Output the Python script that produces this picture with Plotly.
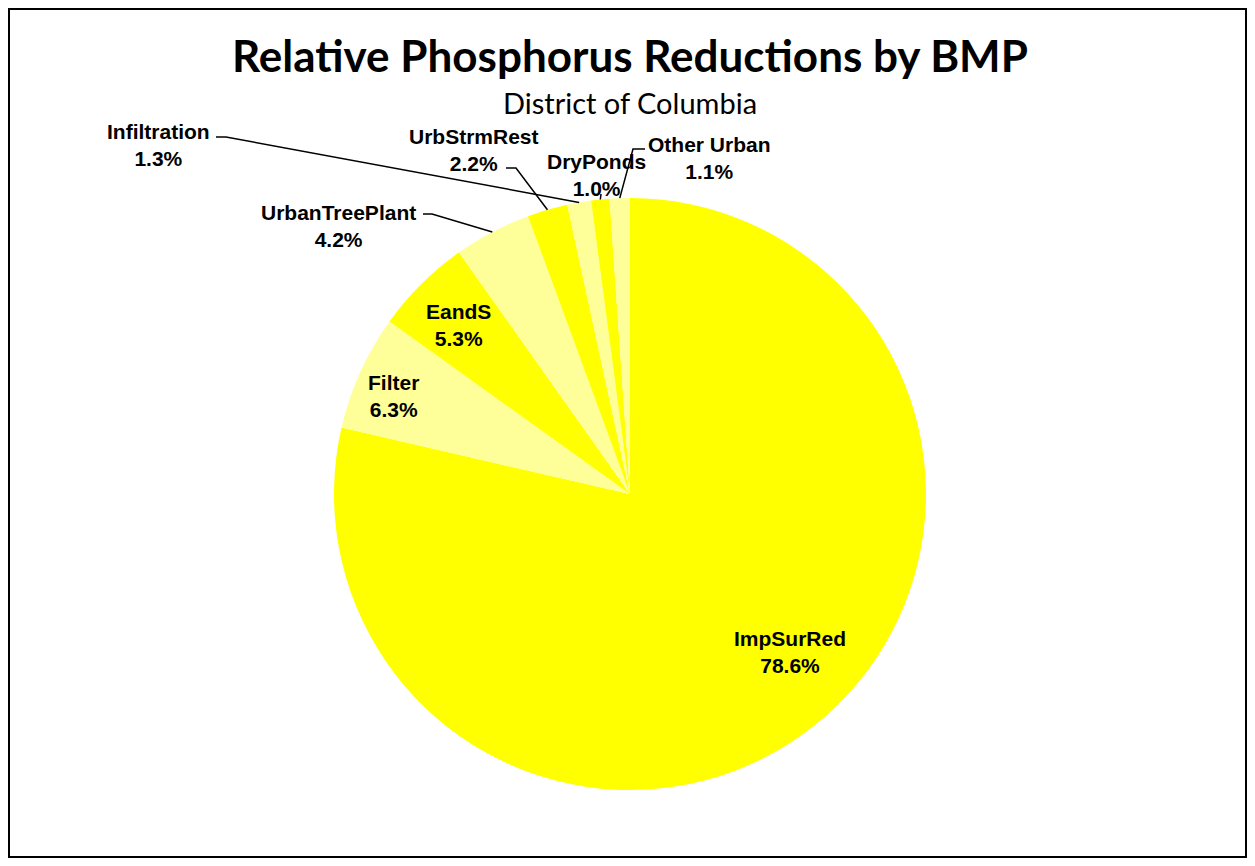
import math
import plotly.graph_objects as go

# ---- data ----
categories = ["ImpSurRed", "Filter", "EandS", "UrbanTreePlant", "UrbStrmRest",
              "Infiltration", "DryPonds", "Other Urban"]
percent_values = [78.6, 6.3, 5.3, 4.2, 2.2, 1.3, 1.0, 1.1]
slice_colors = ["#FFFF00", "#FFFF99", "#FFFF00", "#FFFF99", "#FFFF00",
                "#FFFF99", "#FFFF00", "#FFFF99"]

title_text = "Relative Phosphorus Reductions by BMP"
subtitle_text = "District of Columbia"

# ---- layout (screen pixel geometry; page body has an 8px margin) ----
OFF = 8
W, H = 1255 - 2 * OFF, 866 - 2 * OFF
CX, CY, R = 630, 494, 296

label_pos = {
    "ImpSurRed": (790, 652),
    "Filter": (393, 396),
    "EandS": (458, 325),
    "UrbanTreePlant": (338, 226),
    "UrbStrmRest": (474, 150),
    "Infiltration": (158, 145),
    "DryPonds": (596, 175),
    "Other Urban": (709, 158),
}
leader_start = {
    "UrbanTreePlant": [(423, 214), (432, 214)],
    "UrbStrmRest": [(506, 168), (516, 168)],
    "Infiltration": [(216, 137), (226, 137)],
    "DryPonds": [(601, 194)],
    "Other Urban": [(645, 149), (633, 149)],
}


def px(x):
    return (x - OFF) / W


def py(y):
    return 1 - (y - OFF) / H


fig = go.Figure()
fig.add_trace(go.Pie(
    labels=categories,
    values=percent_values,
    marker=dict(colors=slice_colors, line=dict(width=0)),
    sort=False,
    direction="clockwise",
    rotation=0,
    textinfo="none",
    hoverinfo="label+percent",
    showlegend=False,
    domain=dict(x=[px(CX - R), px(CX + R)], y=[py(CY + R), py(CY - R)]),
))

total = sum(percent_values)
cum = 0.0
shapes = []
annotations = []
label_font = dict(family="Arial, Liberation Sans, sans-serif", size=21, color="black")
for name, v in zip(categories, percent_values):
    mid = (cum + v / 2) / total * 2 * math.pi
    cum += v
    lx, ly = label_pos[name]
    annotations.append(dict(
        x=px(lx), y=py(ly), xref="paper", yref="paper",
        text=f"<b>{name}</b><br><b>{v:.1f}%</b>",
        showarrow=False, xanchor="center", yanchor="middle",
        font=label_font, align="center",
    ))
    if name in leader_start:
        ex = CX + R * math.sin(mid)
        ey = CY - R * math.cos(mid)
        pts = leader_start[name] + [(ex, ey)]
        path = "M " + " L ".join(f"{px(x)},{py(y)}" for x, y in pts)
        shapes.append(dict(type="path", xref="paper", yref="paper", path=path,
                           line=dict(color="black", width=1.5)))

# chart border
shapes.append(dict(type="rect", xref="paper", yref="paper",
                   x0=px(9), x1=px(1246), y0=py(857), y1=py(9),
                   line=dict(color="black", width=2)))

annotations.append(dict(
    x=px(630), y=py(55), xref="paper", yref="paper", text=f"<b>{title_text}</b>",
    showarrow=False, xanchor="center", yanchor="middle",
    font=dict(family="Lato, Open Sans, sans-serif", size=44, color="black"),
))
annotations.append(dict(
    x=px(630), y=py(102), xref="paper", yref="paper", text=subtitle_text,
    showarrow=False, xanchor="center", yanchor="middle",
    font=dict(family="Lato, Open Sans, sans-serif", size=29, color="black"),
))

fig.update_layout(
    width=W, height=H,
    margin=dict(l=0, r=0, t=0, b=0),
    paper_bgcolor="white", plot_bgcolor="white",
    shapes=shapes, annotations=annotations,
)

fig.write_html("out.html")
